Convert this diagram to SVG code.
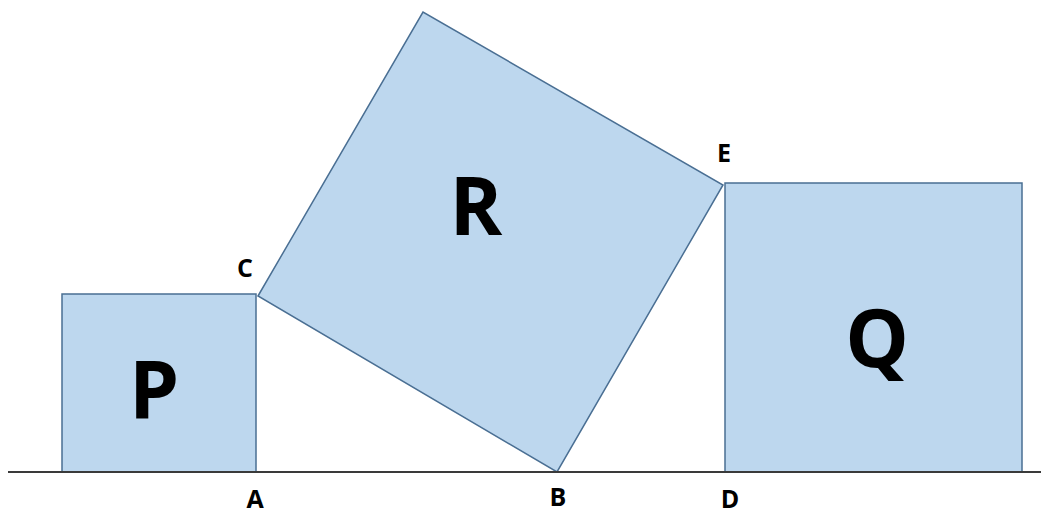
<svg xmlns="http://www.w3.org/2000/svg" width="1041" height="515" viewBox="0 0 1041 515">
<style>
.sq{fill:#bdd7ee;stroke:#4a6f93;stroke-width:1.5}
.big{font-family:"Open Sans","Liberation Sans",sans-serif;font-weight:bold;font-size:80px;fill:#000;text-anchor:middle}
.lbl{font-family:"Open Sans","Liberation Sans",sans-serif;font-weight:bold;font-size:25px;fill:#000;text-anchor:middle}
</style>
<rect width="1041" height="515" fill="#fff"/>
<g id="P"><rect class="sq" x="62" y="294" width="194" height="178"/><text class="big" x="154" y="419">P</text></g>
<g id="R"><polygon class="sq" points="258,296 423,12 723,185 557,472"/><text class="big" x="476" y="235">R</text></g>
<g id="Q"><rect class="sq" x="725" y="183" width="297" height="289"/><text class="big" x="877" y="367">Q</text></g>
<g id="connectors"><line x1="8" y1="472" x2="1041" y2="472" stroke="#3a3a3a" stroke-width="2"/></g>
<g id="labels">
<text class="lbl" x="255" y="508">A</text>
<text class="lbl" x="558" y="506">B</text>
<text class="lbl" x="245" y="277">C</text>
<text class="lbl" x="730" y="508">D</text>
<text class="lbl" x="724" y="162">E</text>
</g>
</svg>
